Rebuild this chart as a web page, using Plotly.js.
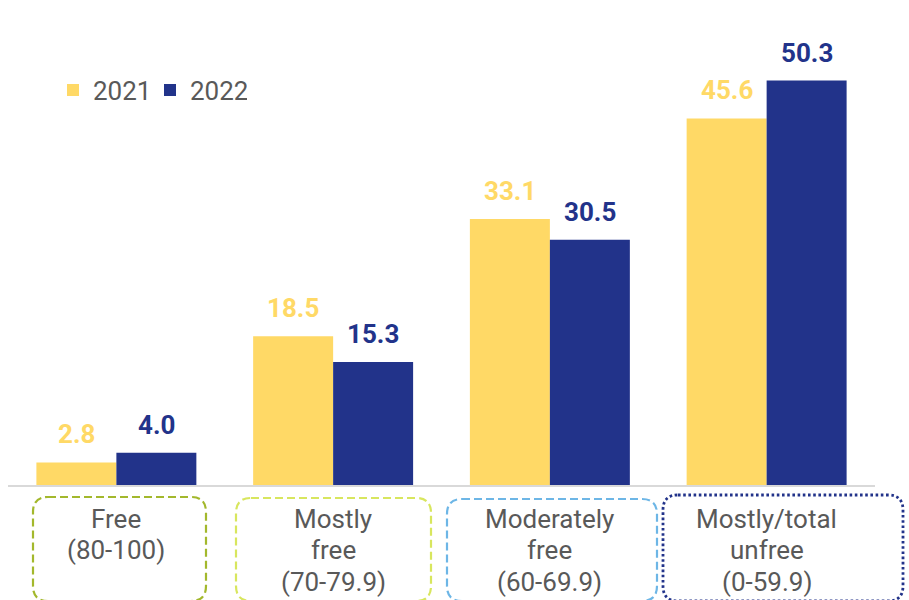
<!DOCTYPE html>
<html>
<head>
<meta charset="utf-8">
<script src="https://cdn.plot.ly/plotly-3.0.1.min.js"></script>
<style>html,body{margin:0;padding:0;background:#fff;}#chart{width:909px;height:600px;}</style>
</head>
<body>
<div id="chart"></div>
<script>
// ---- data ----
const categories = ["Free", "Mostly free", "Moderately free", "Mostly/total unfree"];
const labelLines = [
  ["Free", "(80-100)"],
  ["Mostly", "free", "(70-79.9)"],
  ["Moderately", "free", "(60-69.9)"],
  ["Mostly/total", "unfree", "(0-59.9)"]
];
const seriesNames = ["2021", "2022"];
const values2021 = [2.8, 18.5, 33.1, 45.6];
const values2022 = [4.0, 15.3, 30.5, 50.3];

// ---- styling ----
const W = 909, H = 600;
const M = {l: 8, r: 34, t: 20, b: 115};
const plotW = W - M.l - M.r, plotH = H - M.t - M.b;
const px = x => (x - M.l) / plotW;
const py = y => (H - M.b - y) / plotH;

const colors = ["#FFD966", "#22338A"];
const textGrey = "#595959";
const font = "Roboto, 'Open Sans', Arial, sans-serif";

const traces = [
  {type: "bar", name: seriesNames[0], x: categories, y: values2021,
   marker: {color: colors[0], line: {width: 0}}, hoverinfo: "skip"},
  {type: "bar", name: seriesNames[1], x: categories, y: values2022,
   marker: {color: colors[1], line: {width: 0}}, hoverinfo: "skip"}
];

const annotations = [];
const barShift = plotW / categories.length * (1 - 0.262) / 4;
[values2021, values2022].forEach((vals, s) => {
  vals.forEach((v, i) => {
    annotations.push({
      x: categories[i], y: v, xref: "x", yref: "y",
      text: "<b>" + v.toFixed(1) + "</b>", showarrow: false,
      xshift: s === 0 ? -barShift : barShift, yanchor: "bottom", yshift: 11,
      font: {family: font, size: 26, color: colors[s]}
    });
  });
});
labelLines.forEach((lines, i) => {
  lines.forEach((t, k) => {
    annotations.push({
      x: categories[i], xref: "x", y: py(518.5 + 31.5 * k), yref: "paper",
      yanchor: "middle", text: t, showarrow: false,
      font: {family: font, size: 26, color: textGrey}
    });
  });
});

// decorative rounded label boxes (pixel geometry converted to paper)
const boxes = [
  {x0: 33, x1: 206, y0: 497, color: "#A3B82C", dash: "8px,4px", w: 2.2},
  {x0: 236, x1: 431, y0: 498, color: "#D8E65E", dash: "8px,4px", w: 2.2},
  {x0: 447, x1: 657, y0: 499, color: "#6DB6E6", dash: "8px,4px", w: 2.2},
  {x0: 663, x1: 903, y0: 495, color: "#22338A", dash: "2.6px,2.6px", w: 2.8}
];
const yBottom = 601, r = 15;
const shapes = boxes.map(b => {
  const X0 = px(b.x0), X1 = px(b.x1), Y0 = py(b.y0), Y1 = py(yBottom);
  const rx = r / plotW, ry = r / plotH;
  const path = `M${X0 + rx},${Y0} L${X1 - rx},${Y0} Q${X1},${Y0} ${X1},${Y0 - ry} ` +
    `L${X1},${Y1 + ry} Q${X1},${Y1} ${X1 - rx},${Y1} L${X0 + rx},${Y1} ` +
    `Q${X0},${Y1} ${X0},${Y1 + ry} L${X0},${Y0 - ry} Q${X0},${Y0} ${X0 + rx},${Y0} Z`;
  return {type: "path", xref: "paper", yref: "paper", path: path,
          line: {color: b.color, width: b.w, dash: b.dash}, fillcolor: "rgba(0,0,0,0)"};
});

const layout = {
  width: W, height: H,
  margin: M,
  paper_bgcolor: "#ffffff", plot_bgcolor: "#ffffff",
  barmode: "group", bargap: 0.262, bargroupgap: 0,
  font: {family: font, color: textGrey},
  showlegend: true,
  legend: {orientation: "h", x: px(53), xanchor: "left", y: py(90), yanchor: "middle",
           font: {family: font, size: 26, color: textGrey}, bgcolor: "rgba(0,0,0,0)",
           traceorder: "normal", entrywidth: 52, entrywidthmode: "pixels"},
  xaxis: {showticklabels: false, ticks: "", showgrid: false, zeroline: false,
          showline: true, linecolor: "#D9D9D9", linewidth: 1.5, fixedrange: true},
  yaxis: {range: [0, plotH / 8.04], visible: false, showgrid: false, zeroline: false, fixedrange: true},
  annotations: annotations,
  shapes: shapes
};

Plotly.newPlot("chart", traces, layout, {displayModeBar: false, staticPlot: true});
</script>
</body>
</html>
